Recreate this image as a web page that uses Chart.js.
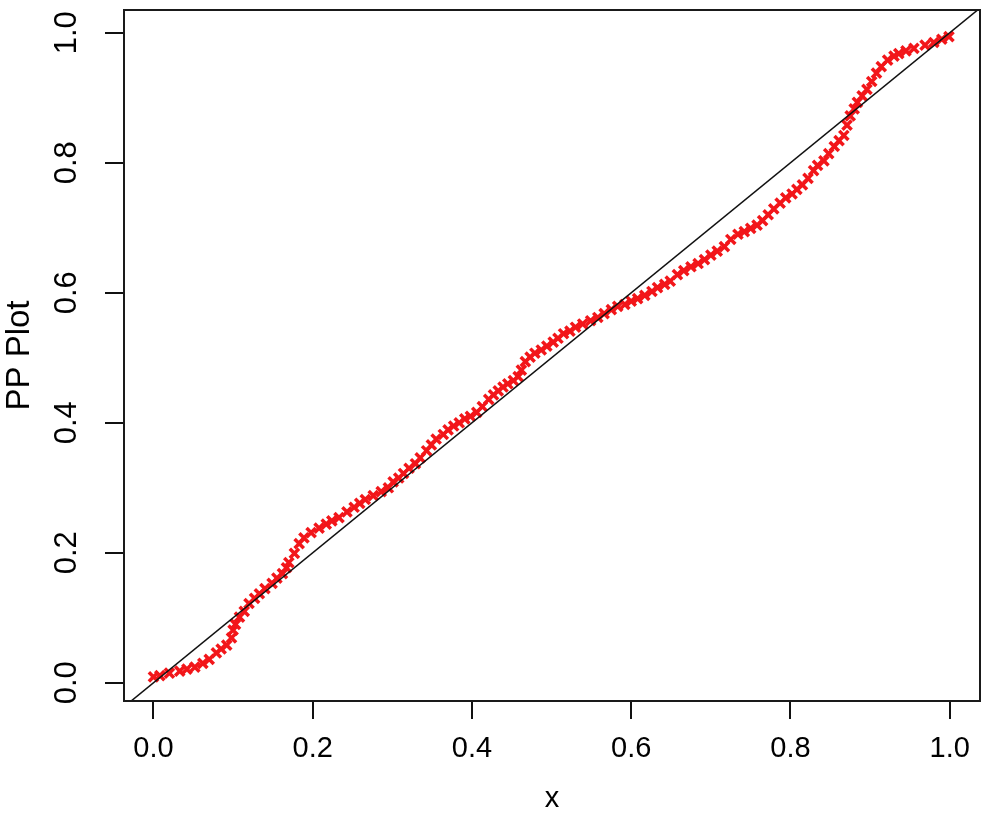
<!DOCTYPE html>
<html>
<head>
<meta charset="utf-8">
<script src="https://cdn.jsdelivr.net/npm/chart.js@4/dist/chart.umd.min.js"></script>
<style>
  html, body { margin: 0; padding: 0; background: #fff; }
  #wrap { width: 990px; height: 813px; }
</style>
</head>
<body>
<div id="wrap"><canvas id="c" width="990" height="813"></canvas></div>
<script>
// ---- data ----
const ppX = [0.000,0.008,0.020,0.033,0.042,0.052,0.062,0.070,0.079,0.085,0.092,0.098,0.100,0.103,0.108,0.114,0.120,0.127,0.133,0.140,0.149,0.155,0.162,0.167,0.170,0.177,0.183,0.189,0.198,0.208,0.217,0.224,0.233,0.243,0.252,0.259,0.266,0.276,0.286,0.295,0.301,0.308,0.314,0.321,0.329,0.335,0.343,0.349,0.355,0.364,0.370,0.377,0.384,0.391,0.398,0.406,0.413,0.421,0.427,0.433,0.439,0.445,0.452,0.458,0.462,0.467,0.473,0.479,0.487,0.494,0.502,0.508,0.515,0.523,0.530,0.539,0.549,0.558,0.566,0.575,0.583,0.592,0.600,0.608,0.617,0.626,0.633,0.642,0.649,0.658,0.666,0.675,0.684,0.692,0.700,0.708,0.717,0.725,0.734,0.742,0.750,0.758,0.765,0.772,0.779,0.787,0.794,0.802,0.808,0.815,0.822,0.829,0.834,0.842,0.848,0.855,0.861,0.867,0.871,0.875,0.880,0.884,0.890,0.896,0.902,0.908,0.914,0.922,0.930,0.936,0.945,0.955,0.969,0.980,0.990,0.999];
const ppY = [0.009,0.011,0.015,0.018,0.021,0.024,0.030,0.036,0.046,0.052,0.058,0.069,0.081,0.090,0.101,0.110,0.122,0.130,0.137,0.145,0.153,0.161,0.168,0.177,0.185,0.199,0.214,0.223,0.231,0.238,0.244,0.249,0.254,0.263,0.270,0.276,0.282,0.288,0.294,0.300,0.309,0.315,0.322,0.330,0.337,0.346,0.357,0.366,0.375,0.382,0.389,0.395,0.400,0.406,0.410,0.416,0.425,0.436,0.443,0.449,0.455,0.460,0.465,0.471,0.481,0.494,0.501,0.507,0.512,0.518,0.524,0.530,0.537,0.541,0.547,0.552,0.557,0.562,0.568,0.574,0.579,0.582,0.587,0.591,0.596,0.602,0.608,0.613,0.618,0.628,0.634,0.640,0.645,0.651,0.658,0.664,0.671,0.682,0.690,0.694,0.699,0.704,0.711,0.720,0.729,0.738,0.746,0.752,0.759,0.766,0.776,0.788,0.796,0.803,0.814,0.825,0.834,0.842,0.858,0.872,0.883,0.893,0.903,0.913,0.925,0.938,0.948,0.958,0.964,0.968,0.972,0.976,0.981,0.985,0.990,0.994];

const xTicks = [0.0, 0.2, 0.4, 0.6, 0.8, 1.0];
const yTicks = [0.0, 0.2, 0.4, 0.6, 0.8, 1.0];
const xTickLabels = ['0.0', '0.2', '0.4', '0.6', '0.8', '1.0'];
const yTickLabels = ['0.0', '0.2', '0.4', '0.6', '0.8', '1.0'];
const xTitle = 'x';
const yTitle = 'PP Plot';
const refLine = [-0.1, 1.1]; // y = x reference line

const FAMILY = '"Liberation Sans", Arial, sans-serif';

const points = ppX.map((x, i) => ({ x: x, y: ppY[i] }));

const framePlugin = {
  id: 'frame',
  afterDraw(chart) {
    const { ctx, chartArea: a, scales } = chart;
    ctx.save();
    ctx.strokeStyle = '#1a1a1a';
    ctx.lineWidth = 2;
    ctx.strokeRect(a.left, a.top, a.right - a.left, a.bottom - a.top);
    ctx.fillStyle = '#000';
    ctx.textAlign = 'center';
    ctx.textBaseline = 'middle';
    ctx.font = '29px ' + FAMILY;
    xTicks.forEach((v, i) => {
      ctx.fillText(xTickLabels[i], scales.x.getPixelForValue(v), 749);
    });
    ctx.fillText(xTitle, (a.left + a.right) / 2, 799);
    ctx.font = '31px ' + FAMILY;
    yTicks.forEach((v, i) => {
      ctx.save();
      ctx.translate(67, scales.y.getPixelForValue(v));
      ctx.rotate(-Math.PI / 2);
      ctx.fillText(yTickLabels[i], 0, 0);
      ctx.restore();
    });
    ctx.font = '33px ' + FAMILY;
    ctx.save();
    ctx.translate(20, (a.top + a.bottom) / 2);
    ctx.rotate(-Math.PI / 2);
    ctx.fillText(yTitle, 0, 0);
    ctx.restore();
    ctx.restore();
  }
};

new Chart(document.getElementById('c'), {
  type: 'scatter',
  data: {
    datasets: [
      {
        type: 'line',
        data: refLine.map(v => ({ x: v, y: v })),
        borderColor: '#111',
        borderWidth: 1.5,
        pointRadius: 0,
        fill: false,
        clip: 0
      },
      {
        data: points,
        pointStyle: 'crossRot',
        pointRadius: 6.5,
        borderWidth: 3.5,
        borderColor: 'rgb(242,22,26)',
        backgroundColor: 'rgb(242,22,26)',
        clip: 0
      }
    ]
  },
  plugins: [framePlugin],
  options: {
    responsive: false,
    animation: false,
    events: [],
    layout: { padding: { top: 4, right: 6, left: 0, bottom: 0 } },
    plugins: { legend: { display: false }, tooltip: { enabled: false } },
    scales: {
      x: {
        type: 'linear',
        min: -0.037,
        max: 1.038,
        afterBuildTicks: s => { s.ticks = xTicks.map(v => ({ value: v })); },
        afterFit: s => { s.height = 112; },
        ticks: { display: false },
        border: { display: false },
        grid: { drawOnChartArea: false, drawTicks: true, tickLength: 18, color: '#111', lineWidth: 2 }
      },
      y: {
        type: 'linear',
        min: -0.028,
        max: 1.035,
        afterBuildTicks: s => { s.ticks = yTicks.map(v => ({ value: v })); },
        afterFit: s => { s.width = 124; },
        ticks: { display: false },
        border: { display: false },
        grid: { drawOnChartArea: false, drawTicks: true, tickLength: 19, color: '#111', lineWidth: 2 }
      }
    }
  }
});
</script>
</body>
</html>
